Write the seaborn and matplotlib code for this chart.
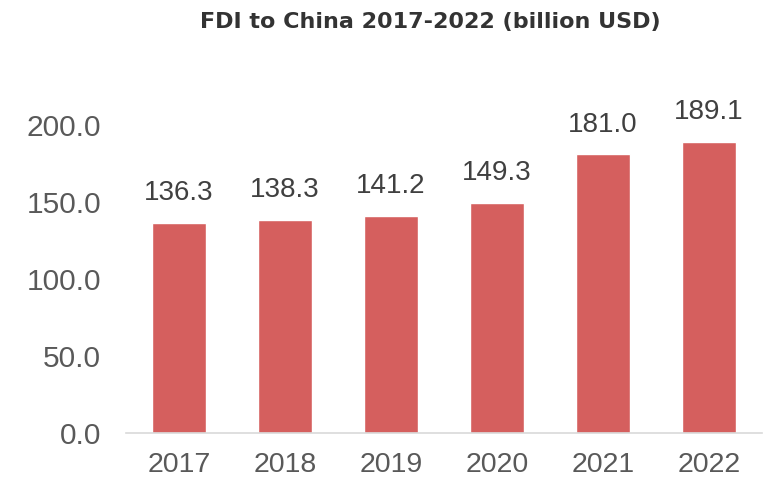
import matplotlib
matplotlib.use("Agg")
import matplotlib.pyplot as plt
import seaborn as sns
import pandas as pd

years = ["2017", "2018", "2019", "2020", "2021", "2022"]
fdi = [136.3, 138.3, 141.2, 149.3, 181.0, 189.1]

sns.set_style("white")
plt.rcParams['font.family'] = ['Liberation Sans', 'DejaVu Sans']

df = pd.DataFrame({"year": years, "fdi": fdi})

fig = plt.figure(figsize=(7.65, 4.82), dpi=100)
ax = fig.add_axes([126/765, 1 - 433/482, 636/765, (433 - 102)/482])

sns.barplot(data=df, x="year", y="fdi", color="#D55F5E", width=0.51,
            saturation=1, ax=ax)

ax.set_ylim(0, 215)
ax.set_yticks([0, 50, 100, 150, 200])
ax.set_yticklabels([f"{v:.1f}" for v in [0, 50, 100, 150, 200]])
ax.set_xlabel("")
ax.set_ylabel("")
for s in ["top", "right", "left"]:
    ax.spines[s].set_visible(False)
ax.spines["bottom"].set_color("#D9D9D9")
ax.spines["bottom"].set_linewidth(1.2)
ax.tick_params(axis="both", length=0, colors="#595959")
ax.tick_params(axis="y", pad=18, labelsize=21.5)
ax.tick_params(axis="x", pad=14, labelsize=20.5)

for p, v in zip(ax.patches, fdi):
    ax.annotate(f"{v:.1f}", (p.get_x() + p.get_width() / 2, p.get_height()),
                xytext=(0, 12), textcoords="offset points",
                ha="center", va="bottom", fontsize=20, color="#404040")

fig.text(430/765, 1 - 22/482, "FDI to China 2017-2022 (billion USD)",
         ha="center", va="center", fontsize=16, fontweight="bold",
         color="#333333", family=["DejaVu Sans"])

fig.savefig("out.png", dpi=100)
